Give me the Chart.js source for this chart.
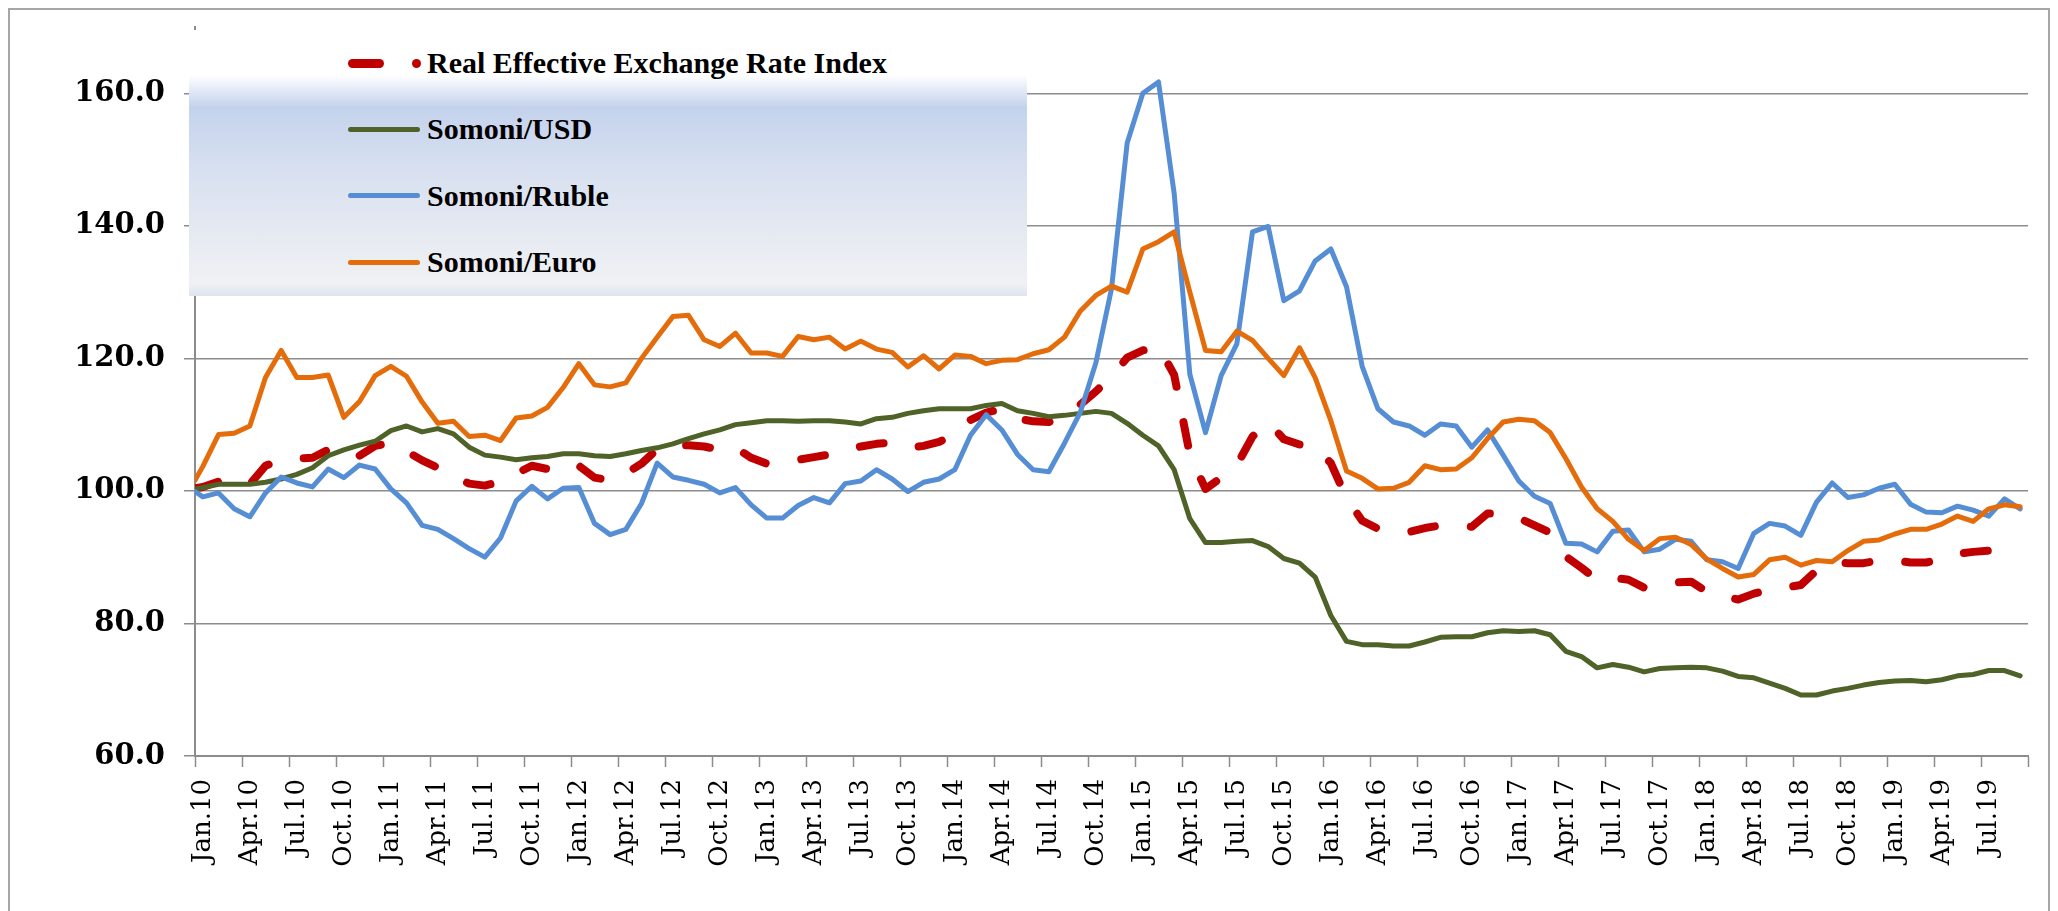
<!DOCTYPE html>
<html>
<head>
<meta charset="utf-8">
<title>Somoni exchange rates and REER</title>
<script src="https://cdn.jsdelivr.net/npm/chart.js@4.4.1/dist/chart.umd.min.js"></script>
<style>
  html, body { margin: 0; padding: 0; background: #fff; overflow: hidden; }
  #wrap { position: relative; width: 2058px; height: 911px; }
  #chart { display: block; }
  #frame {
    position: absolute; left: 8px; top: 8px; width: 2042px; height: 940px;
    border: 2px solid #a6a6a6; box-sizing: border-box; pointer-events: none;
  }
  #legend {
    position: absolute; left: 189px; top: 30px; width: 838px; height: 266px;
    background: linear-gradient(to bottom, #ffffff 0%, #ffffff 17%, #c3d2ec 29%,
      #d6dff0 50%, #e5e9f1 75%, #eff1f3 95%, #dfe5f0 100%);
  }
  .item {
    position: absolute; left: 159px; height: 40px; display: flex; align-items: center;
    font: bold 30px "Liberation Serif", serif; color: #000; white-space: nowrap;
  }
  .swatch { position: relative; width: 72px; height: 5px; border-radius: 3px; margin-right: 7px; }
  .dash { position: absolute; top: -2px; height: 9px; border-radius: 5px; background: #c00000; }
</style>
</head>
<body>
<div id="wrap">
  <canvas id="chart" width="2058" height="911"></canvas>
  <div id="legend"></div>
  <div id="frame"></div>
</div>
<script>
// month labels Jan.10 ... Sep.19
const monthNames = ['Jan', 'Feb', 'Mar', 'Apr', 'May', 'Jun', 'Jul', 'Aug', 'Sep', 'Oct', 'Nov', 'Dec'];
const months = [];
for (let yr = 10; yr <= 19; yr++) {
    monthNames.forEach((m, k) => {
        if (yr === 19 && k > 8) return;
        months.push(`${m}.${yr}`);
    });
}

const yTickValues = [60, 80, 100, 120, 140, 160];

// first value of each series sits on the left edge of the axis, then one per month
const reerIndex = [100.4,
    100.6, 101.4, 100.8, 101.0, 103.8, 104.7, 104.9, 105.0, 106.2, 105.0,
    105.3, 106.8, 107.2, 106.0, 104.6, 103.5, 102.2, 101.1, 100.8, 101.4,
    102.6, 103.8, 103.3, 104.2, 103.8, 102.0, 101.6, 102.6, 104.1, 106.3,
    106.8, 106.9, 106.7, 106.2, 106.5, 105.0, 104.1, 104.3, 104.7, 105.1,
    105.5, 106.1, 106.7, 107.1, 107.3, 106.5, 106.8, 107.4, 108.5, 110.7,
    111.8, 112.4, 110.9, 110.5, 110.4, 111.4, 113.0, 115.0, 117.3, 120.1,
    121.2, 121.8, 117.5, 105.5, 100.3, 102.0, 103.9, 108.2, 110.4, 107.8,
    107.0, 106.7, 104.2, 98.9, 95.5, 94.3, 93.8, 93.8, 94.4, 94.8,
    94.7, 94.6, 96.6, 96.5, 95.9, 94.8, 93.7, 90.1, 88.4, 86.6,
    86.9, 86.6, 85.4, 85.8, 86.2, 86.3, 84.8, 84.2, 83.6, 84.5,
    85.1, 85.4, 85.8, 88.0, 89.2, 89.1, 89.1, 89.5, 89.5, 89.2,
    89.2, 89.7, 90.5, 90.8, 91.0, 91.8, 91.4];

const somoniUsd = [100.3,
    100.5, 101.0, 101.0, 101.0, 101.3, 101.8, 102.5, 103.5, 105.3, 106.2,
    106.9, 107.5, 109.1, 109.8, 108.9, 109.4, 108.6, 106.6, 105.4, 105.1,
    104.7, 105.0, 105.2, 105.6, 105.6, 105.3, 105.2, 105.6, 106.1, 106.5,
    107.1, 107.9, 108.6, 109.2, 110.0, 110.3, 110.6, 110.6, 110.5, 110.6,
    110.6, 110.4, 110.1, 110.9, 111.1, 111.7, 112.1, 112.4, 112.4, 112.4,
    112.9, 113.2, 112.1, 111.7, 111.2, 111.4, 111.7, 112.0, 111.7, 110.2,
    108.4, 106.8, 103.2, 95.8, 92.2, 92.2, 92.4, 92.5, 91.6, 89.8,
    89.1, 87.0, 81.2, 77.3, 76.8, 76.8, 76.6, 76.6, 77.2, 77.9,
    78.0, 78.0, 78.6, 78.9, 78.8, 78.9, 78.3, 75.8, 75.0, 73.3,
    73.8, 73.4, 72.7, 73.2, 73.3, 73.4, 73.3, 72.8, 72.0, 71.8,
    71.0, 70.2, 69.2, 69.2, 69.8, 70.2, 70.7, 71.1, 71.3, 71.4,
    71.2, 71.5, 72.1, 72.3, 72.9, 72.9, 72.1];

const somoniRuble = [99.9,
    99.1, 99.7, 97.3, 96.1, 99.7, 102.1, 101.2, 100.6, 103.3, 102.0,
    103.9, 103.3, 100.3, 98.2, 94.8, 94.2, 92.8, 91.3, 90.0, 92.9,
    98.5, 100.7, 98.8, 100.4, 100.5, 95.1, 93.4, 94.2, 98.1, 104.2,
    102.1, 101.6, 101.0, 99.7, 100.5, 97.9, 95.9, 95.9, 97.8, 99.0,
    98.2, 101.1, 101.5, 103.2, 101.8, 99.9, 101.3, 101.8, 103.2, 108.4,
    111.5, 109.2, 105.5, 103.2, 102.9, 107.2, 111.8, 119.3, 130.5, 152.5,
    160.0, 161.7, 144.9, 117.6, 108.8, 117.4, 122.2, 139.1, 139.9, 128.7,
    130.2, 134.7, 136.5, 130.8, 118.8, 112.4, 110.4, 109.8, 108.4, 110.1,
    109.8, 106.6, 109.2, 105.4, 101.5, 99.2, 98.1, 92.1, 92.0, 90.8,
    93.9, 94.1, 90.8, 91.2, 92.7, 92.4, 89.6, 89.3, 88.3, 93.6,
    95.1, 94.7, 93.3, 98.3, 101.2, 99.0, 99.4, 100.4, 101.0, 98.0,
    96.8, 96.7, 97.7, 97.1, 96.2, 98.8, 97.3];

const somoniEuro = [101.6,
    103.7, 108.5, 108.7, 109.8, 117.1, 121.2, 117.1, 117.1, 117.5, 111.1,
    113.5, 117.4, 118.8, 117.3, 113.4, 110.2, 110.5, 108.2, 108.4, 107.6,
    111.0, 111.3, 112.6, 115.6, 119.2, 116.0, 115.7, 116.3, 120.0, 123.2,
    126.3, 126.5, 122.8, 121.8, 123.8, 120.8, 120.8, 120.3, 123.3, 122.8,
    123.2, 121.4, 122.6, 121.4, 120.9, 118.7, 120.4, 118.4, 120.5, 120.3,
    119.2, 119.7, 119.8, 120.7, 121.3, 123.2, 127.1, 129.5, 130.9, 130.0,
    136.5, 137.6, 139.1, 130.0, 121.2, 121.0, 124.1, 122.7, 120.0, 117.4,
    121.6, 117.1, 110.6, 103.0, 101.9, 100.3, 100.4, 101.3, 103.8, 103.2,
    103.3, 105.0, 107.9, 110.4, 110.8, 110.6, 108.8, 104.9, 100.6, 97.3,
    95.4, 92.7, 91.0, 92.8, 93.0, 91.9, 89.7, 88.3, 87.0, 87.4,
    89.6, 90.0, 88.8, 89.5, 89.3, 91.0, 92.4, 92.6, 93.5, 94.2,
    94.2, 95.0, 96.2, 95.4, 97.3, 97.9, 97.6];

const seriesNames = ['Real Effective Exchange Rate Index', 'Somoni/USD', 'Somoni/Ruble', 'Somoni/Euro'];
const seriesColors = ['#c00000', '#4f6228', '#558ed5', '#e46c0a'];

// x position of every value: the axis edge, then the month slots
const xPos = [-0.5].concat(months.map((m, i) => i));

function toPoints(values) {
    return values.map((v, k) => ({ x: xPos[k], y: v }));
}

const axisGray = '#8c8c8c';

const datasets = [reerIndex, somoniUsd, somoniRuble, somoniEuro].map((values, k) => ({
    label: seriesNames[k],
    data: toPoints(values),
    borderColor: seriesColors[k],
    borderWidth: k === 0 ? 8 : 5,
    borderDash: k === 0 ? [24, 36] : [],
    borderCapStyle: 'round',
    borderJoinStyle: 'round',
    pointRadius: 0,
    tension: 0,
    fill: false,
    order: 4 - k
}));

new Chart(document.getElementById('chart'), {
    type: 'line',
    data: { datasets: datasets },
    options: {
        responsive: false,
        animation: false,
        devicePixelRatio: 1,
        layout: { padding: { top: 27, right: 30, left: 0, bottom: 0 } },
        plugins: { legend: { display: false }, tooltip: { enabled: false } },
        scales: {
            x: {
                type: 'linear',
                min: -0.5,
                max: months.length - 0.5,
                afterBuildTicks: axis => { axis.ticks = months.map((m, i) => ({ value: i })); },
                afterFit: axis => {
                    axis.height = 155;
                    axis.paddingLeft = 0;
                    axis.paddingRight = 0;
                },
                grid: {
                    offset: true,
                    drawOnChartArea: false,
                    drawTicks: true,
                    tickLength: 11,
                    tickWidth: 1.5,
                    tickColor: ctx => (ctx.index === undefined || ctx.index % 3 === 0) ? axisGray : 'rgba(0,0,0,0)'
                },
                border: { color: axisGray, width: 2 },
                ticks: {
                    autoSkip: false,
                    minRotation: 90,
                    maxRotation: 90,
                    padding: 12,
                    color: '#000',
                    font: { family: 'DejaVu Serif', size: 26 },
                    callback: v => (v % 3 === 0 ? months[v] : '')
                }
            },
            y: {
                min: 60,
                max: 170,
                afterBuildTicks: axis => { axis.ticks = yTickValues.map(v => ({ value: v })); },
                afterFit: axis => {
                    axis.width = 195;
                    axis.paddingTop = 0;
                    axis.paddingBottom = 0;
                },
                grid: { color: axisGray, lineWidth: 1.5, tickLength: 11, drawTicks: true },
                border: { color: axisGray, width: 2 },
                ticks: {
                    padding: 19,
                    color: '#000',
                    font: { family: 'DejaVu Serif', size: 29, weight: 'bold' },
                    callback: v => v.toFixed(1)
                }
            }
        }
    }
});

// legend drawn as html over the plot, same layout as the original
function buildLegend() {
    const legend = document.getElementById('legend');
    const centers = [33, 99, 165.5, 232];
    seriesNames.forEach((name, k) => {
        const item = document.createElement('div');
        item.className = 'item';
        item.style.top = (centers[k] - 20) + 'px';

        const swatch = document.createElement('div');
        swatch.className = 'swatch';
        if (k === 0) {
            const dash = document.createElement('div');
            dash.className = 'dash';
            dash.style.left = '0px';
            dash.style.width = '36px';
            const dot = document.createElement('div');
            dot.className = 'dash';
            dot.style.left = '64px';
            dot.style.width = '9px';
            swatch.appendChild(dash);
            swatch.appendChild(dot);
        } else {
            swatch.style.background = seriesColors[k];
        }

        const text = document.createElement('span');
        text.textContent = name;

        item.appendChild(swatch);
        item.appendChild(text);
        legend.appendChild(item);
    });
}

buildLegend();
</script>
</body>
</html>
